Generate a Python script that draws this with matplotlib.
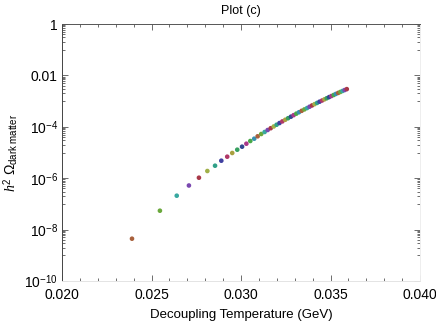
import numpy as np
import matplotlib
matplotlib.use("Agg")
import matplotlib.pyplot as plt
from matplotlib.ticker import FixedLocator, NullFormatter

plt.rcParams['font.family'] = ['Liberation Sans', 'DejaVu Sans']
plt.rcParams['mathtext.fontset'] = 'custom'
plt.rcParams['mathtext.rm'] = 'Liberation Sans'
plt.rcParams['mathtext.sf'] = 'Liberation Sans'
plt.rcParams['mathtext.it'] = 'Liberation Serif:italic'

# ---- data ----
decoupling_T = [
    0.02391, 0.02547, 0.02641, 0.02709, 0.02765, 0.02812, 0.02855, 0.02890,
    0.02923, 0.02951, 0.02979, 0.03006, 0.03030, 0.03052, 0.03074, 0.03093,
    0.03113, 0.03132, 0.03149, 0.03166, 0.03183, 0.03199, 0.03215, 0.03231,
    0.03247, 0.03263, 0.03279, 0.03294, 0.03309, 0.03324, 0.03339, 0.03354,
    0.03369, 0.03383, 0.03397, 0.03411, 0.03425, 0.03439, 0.03453, 0.03466,
    0.03479, 0.03492, 0.03505, 0.03518, 0.03530, 0.03543, 0.03555, 0.03567,
    0.03579, 0.03591,
]
log10_omega = [
    -8.354, -7.265, -6.681, -6.284, -5.981, -5.720, -5.514, -5.319,
    -5.163, -5.019, -4.891, -4.774, -4.658, -4.553, -4.463, -4.370,
    -4.280, -4.202, -4.125, -4.055, -3.987, -3.920, -3.854, -3.790,
    -3.727, -3.666, -3.606, -3.547, -3.489, -3.433, -3.378, -3.324,
    -3.271, -3.219, -3.168, -3.119, -3.071, -3.023, -2.977, -2.932,
    -2.888, -2.845, -2.803, -2.762, -2.721, -2.682, -2.644, -2.606,
    -2.570, -2.534,
]
x_ticks = [0.020, 0.025, 0.030, 0.035, 0.040]
x_tick_labels = ["0.020", "0.025", "0.030", "0.035", "0.040"]
y_ticks = [1, 1e-2, 1e-4, 1e-6, 1e-8, 1e-10]
y_tick_labels = ["1", "0.01", r"$10^{-4}$", r"$10^{-6}$", r"$10^{-8}$", r"$10^{-10}$"]
title = "Plot (c)"
x_label = "Decoupling Temperature (GeV)"
y_label = r"$h^2\ \Omega_{\mathsf{dark\ matter}}$"

palette = ["#a8603c", "#6aa83c", "#38a8a0", "#7a48b0", "#a83848",
           "#a0b048", "#30a088", "#4040a0", "#b03868", "#a8a040",
           "#38a060", "#304890", "#a83888", "#48a848", "#3890b0"]

omega = [10.0 ** v for v in log10_omega]
colors = [palette[i % len(palette)] for i in range(len(omega))]

fig = plt.figure(figsize=(4.36, 3.27), dpi=100)
ax = fig.add_axes([62/436, 1 - 281/327, (420-62)/436, (281-24)/327])
ax.scatter(decoupling_T, omega, s=11, c=colors, edgecolors='none', zorder=3)

ax.set_yscale('log')
ax.set_xlim(0.020, 0.040)
ax.set_ylim(1e-10, 1)

ax.xaxis.set_major_locator(FixedLocator(x_ticks))
ax.set_xticklabels(x_tick_labels)
ax.xaxis.set_minor_locator(FixedLocator(np.arange(0.020, 0.0401, 0.001)))
ax.yaxis.set_major_locator(FixedLocator(y_ticks))
ax.set_yticklabels(y_tick_labels)
minor_y = [m * 10.0 ** e for e in (-1, -3, -5, -7, -9) for m in range(1, 10)]
ax.yaxis.set_minor_locator(FixedLocator(minor_y))
ax.yaxis.set_minor_formatter(NullFormatter())

ax.tick_params(which='both', direction='in', top=True, right=True,
               labelsize=10, color='#555555', width=0.6)
ax.tick_params(axis='x', which='major', pad=5)
ax.tick_params(axis='y', which='major', pad=3)
ax.tick_params(which='major', length=4)
ax.tick_params(which='minor', length=2)

ax.spines['left'].set_color('#444444')
ax.spines['top'].set_color('#555555')
ax.spines['bottom'].set_color('#e4e4e4')
ax.spines['right'].set_color('#eeeeee')
for s in ax.spines.values():
    s.set_linewidth(0.7)

ax.set_title(title, fontsize=9, pad=7)
ax.set_xlabel(x_label, fontsize=9.5, labelpad=5)
ax.set_ylabel(y_label, fontsize=10, labelpad=2)

fig.savefig("out.png", dpi=100)
